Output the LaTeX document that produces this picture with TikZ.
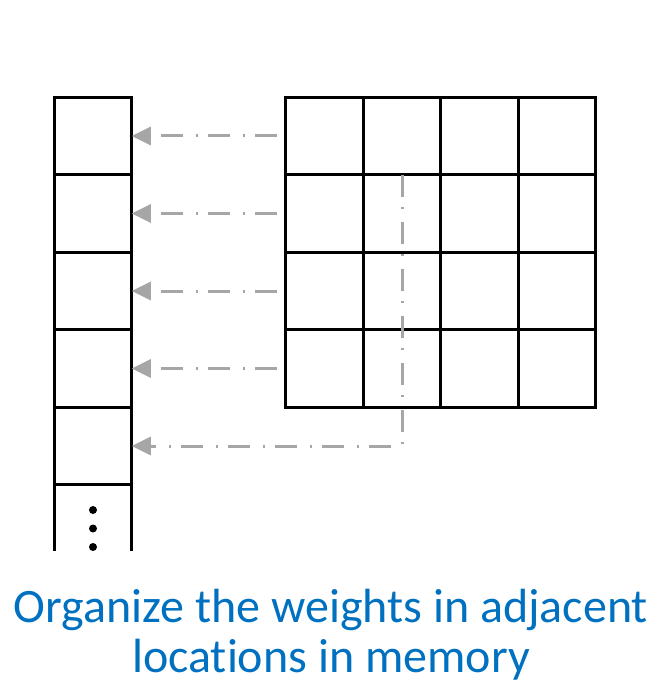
\documentclass[tikz,border=0pt]{standalone}
\usepackage{fontspec}
\setmainfont{Carlito}[Ligatures={NoCommon}]
\usetikzlibrary{arrows.meta}
\definecolor{arrgray}{HTML}{A6A6A6}
\definecolor{txtblue}{HTML}{0070C0}
\begin{document}
\begin{tikzpicture}[x=1pt,y=-1pt,
  cell/.style={draw=black,line width=2.7pt,minimum width=77.5pt,minimum height=77.5pt,inner sep=0pt,outer sep=0pt},
  mapline/.style={draw=arrgray,line width=3pt,dash pattern=on 22pt off 10pt on 2pt off 13pt,
    -{Triangle[length=19pt,width=18pt]}},
  caption/.style={text=txtblue,font=\fontsize{48}{48}\selectfont,anchor=base,inner sep=0pt}]
\useasboundingbox (0,0) rectangle (652,684);
% memory column
\foreach \i/\y in {1/136,2/213.5,3/291,4/368.5,5/446}{
  \node[cell] (m\i) at (93,\y) {};
}
\draw[line width=2.7pt] (m5.south west) -- ++(0,66);
\draw[line width=2.7pt] (m5.south east) -- ++(0,66);
\fill (93,510) circle (4);
\fill (93,528.5) circle (4);
\fill (93,547) circle (4);
% weight grid
\foreach \r/\y in {1/136,2/213.5,3/291,4/368.5}{
  \foreach \c/\x in {1/324.5,2/402,3/479.5,4/557}{
    \node[cell] (g\r\c) at (\x,\y) {};
  }
}
% arrows
\foreach \r in {1,2,3,4}{
  \coordinate (a\r) at ([xshift=-9pt]g\r1.west);
  \draw[mapline] (a\r) -- (m\r.east);
}
\draw[mapline] (g22.north) |- (m5.east);
% caption
\node[caption] (t1) at (331,622) {Organize the weights in adjacent};
\node[caption] (t2) at (331,672) {locations in memory};
\end{tikzpicture}
\end{document}
